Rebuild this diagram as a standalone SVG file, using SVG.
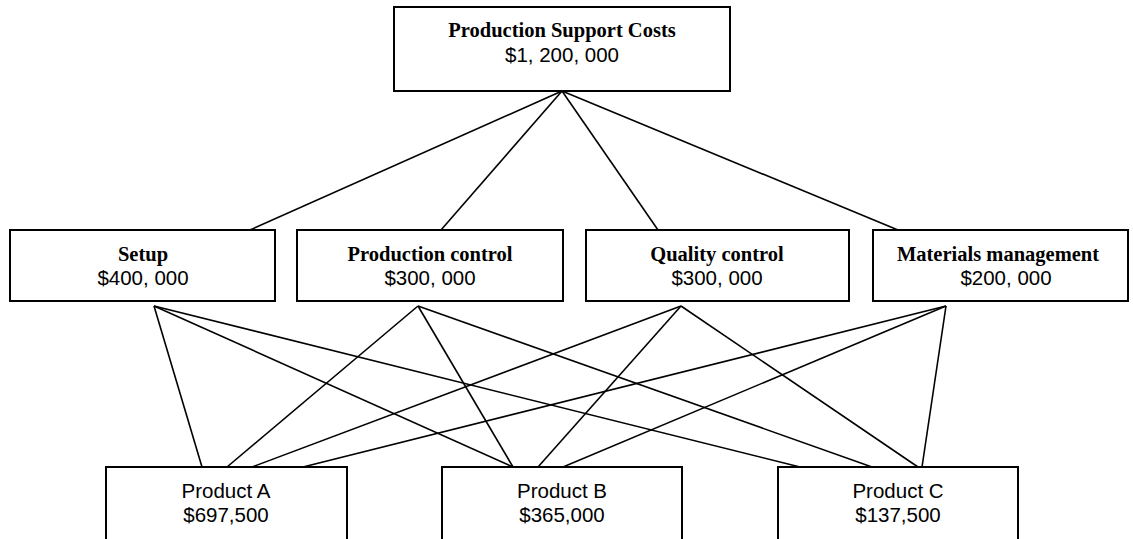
<svg xmlns="http://www.w3.org/2000/svg" width="1133" height="539" viewBox="0 0 1133 539">
<style>
.box{fill:#fff;stroke:#000;stroke-width:2}
.c line{stroke:#000;stroke-width:1.6}
.b{font-family:"Liberation Serif","Times New Roman",serif;font-weight:bold;font-size:20.5px;text-anchor:middle}
.r{font-family:"Liberation Sans",Arial,sans-serif;font-size:20.5px;text-anchor:middle}
</style>
<rect width="1133" height="539" fill="#fff"/>
<g class="c" id="connectors">
<line x1="562" y1="91" x2="250" y2="230"/>
<line x1="562" y1="91" x2="441" y2="230"/>
<line x1="562" y1="91" x2="658" y2="230"/>
<line x1="562" y1="91" x2="898" y2="230"/>
<line x1="154" y1="306" x2="202" y2="467"/>
<line x1="154" y1="306" x2="513" y2="467"/>
<line x1="154" y1="306" x2="800" y2="467"/>
<line x1="418" y1="306" x2="227" y2="467"/>
<line x1="418" y1="306" x2="513" y2="467"/>
<line x1="418" y1="306" x2="872" y2="467"/>
<line x1="681" y1="306" x2="252" y2="467"/>
<line x1="681" y1="306" x2="538" y2="467"/>
<line x1="681" y1="306" x2="918" y2="467"/>
<line x1="946" y1="306" x2="303" y2="467"/>
<line x1="946" y1="306" x2="563" y2="467"/>
<line x1="946" y1="306" x2="922" y2="467"/>
</g>
<g id="top"><rect class="box" x="394" y="7" width="336" height="84"/>
<text class="b" x="562" y="37">Production Support Costs</text>
<text class="r" x="562" y="62">$1, 200, 000</text></g>
<g id="setup"><rect class="box" x="10" y="230" width="265" height="71"/>
<text class="b" x="143" y="261">Setup</text>
<text class="r" x="143" y="285">$400, 000</text></g>
<g id="prodcontrol"><rect class="box" x="297" y="230" width="266" height="71"/>
<text class="b" x="430" y="261">Production control</text>
<text class="r" x="430" y="285">$300, 000</text></g>
<g id="qualcontrol"><rect class="box" x="586" y="230" width="263" height="71"/>
<text class="b" x="717" y="261">Quality control</text>
<text class="r" x="717" y="285">$300, 000</text></g>
<g id="materials"><rect class="box" x="873" y="230" width="255" height="71"/>
<text class="b" x="998" y="261">Materials management</text>
<text class="r" x="1006" y="285">$200, 000</text></g>
<g id="prodA"><rect class="box" x="106" y="467" width="241" height="80"/>
<text class="r" x="226" y="498">Product A</text>
<text class="r" x="226" y="522">$697,500</text></g>
<g id="prodB"><rect class="box" x="442" y="467" width="240" height="80"/>
<text class="r" x="562" y="498">Product B</text>
<text class="r" x="562" y="522">$365,000</text></g>
<g id="prodC"><rect class="box" x="778" y="467" width="240" height="80"/>
<text class="r" x="898" y="498">Product C</text>
<text class="r" x="898" y="522">$137,500</text></g>
</svg>
